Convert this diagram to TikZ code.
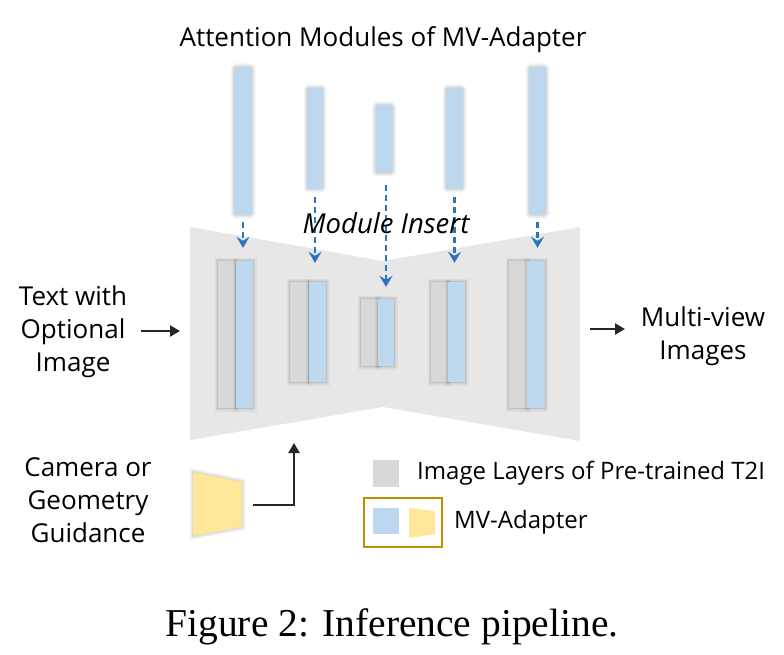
\documentclass[tikz,border=0pt]{standalone}
\usepackage{fontspec}
\setmainfont{Liberation Serif}
\newfontfamily\lblfont{Open Sans}
\usetikzlibrary{arrows.meta}
\definecolor{blueM}{HTML}{BDD7EE}
\definecolor{grayL}{HTML}{D8D8D8}
\definecolor{bowtie}{HTML}{E7E7E7}
\definecolor{arrowBlue}{HTML}{2E75B6}
\definecolor{yellowA}{HTML}{FFE699}
\definecolor{goldB}{HTML}{BF9000}
\definecolor{inkK}{HTML}{262626}
\tikzset{
  shd/.style={preaction={draw=black,draw opacity=0.04,line width=7pt},
              preaction={draw=black,draw opacity=0.05,line width=4.5pt},
              preaction={draw=black,draw opacity=0.07,line width=2pt}},
  modbar/.style={fill=blueM,draw=none,inner sep=0pt,rounded corners=1.5pt,shd},
  adpt/.style={fill=blueM,draw=none,inner sep=0pt,shd},
  lay/.style={fill=grayL,draw=none,inner sep=0pt,shd},
  dasharrow/.style={draw=arrowBlue,line width=2.4pt,dash pattern=on 6pt off 4pt,-{Stealth[length=11pt,width=13pt,inset=4pt]}},
  blk/.style={draw=inkK,line width=2.2pt,-{Triangle[length=10pt,width=11pt]}},
  lbl/.style={font=\lblfont\fontsize{26}{33}\selectfont,align=center,inner sep=0pt,text=black},
}
\begin{document}
\begin{tikzpicture}[x=1pt,y=-1pt]
\useasboundingbox (0,0) rectangle (784,655);
% bowtie (U-Net body)
\fill[bowtie] (190,227) -- (383,261) -- (580,227) -- (580,441) -- (383,407) -- (190,440) -- cycle;
\coordinate (ubot) at (294,443);
\coordinate (uin) at (180,331);
\coordinate (uout) at (590,329);
% title
\node[lbl] (title) at (383,40) {Attention Modules of MV-Adapter};
% attention module bars
\node[modbar,minimum width=18pt,minimum height=148pt] (m1) at (243,141) {};
\node[modbar,minimum width=16pt,minimum height=101pt] (m2) at (315,138.5) {};
\node[modbar,minimum width=17pt,minimum height=68pt] (m3) at (384,139) {};
\node[modbar,minimum width=17pt,minimum height=101pt] (m4) at (454.5,138.5) {};
\node[modbar,minimum width=17pt,minimum height=148pt] (m5) at (537.5,141) {};
% image layers + adapters
\node[lay,minimum width=17pt,minimum height=147pt] (g1) at (226.5,334.5) {};
\node[adpt,minimum width=17pt,minimum height=147pt] (a1) at (244.5,334.5) {};
\node[lay,minimum width=18pt,minimum height=100pt] (g2) at (299,332) {};
\node[adpt,minimum width=17pt,minimum height=100pt] (a2) at (317.5,332) {};
\node[lay,minimum width=17pt,minimum height=67pt] (g3) at (369.5,332.5) {};
\node[adpt,minimum width=16pt,minimum height=67pt] (a3) at (386,332.5) {};
\node[lay,minimum width=17pt,minimum height=100pt] (g4) at (439.5,332) {};
\node[adpt,minimum width=17pt,minimum height=100pt] (a4) at (456.5,332) {};
\node[lay,minimum width=18pt,minimum height=147pt] (g5) at (518,334.5) {};
\node[adpt,minimum width=17pt,minimum height=147pt] (a5) at (536,334.5) {};
% re-draw adapters over neighbouring layer shadows
\foreach \n in {a1,a2,a3,a4,a5}{\fill[blueM] (\n.south west) rectangle (\n.north east);}
% module insert arrows
\draw[dasharrow] ([yshift=-7pt]m1.south) -- ([yshift=13pt]m1.south |- a1.north);
\draw[dasharrow] ([yshift=-8pt]m2.south) -- ([yshift=19pt]m2.south |- a2.north);
\draw[dasharrow] ([xshift=2pt,yshift=-12pt]m3.south) -- ([yshift=12pt]a3.north);
\draw[dasharrow] ([yshift=-8pt]m4.south) -- ([yshift=19pt]m4.south |- a4.north);
\draw[dasharrow] ([yshift=-7pt]m5.south) -- ([yshift=13pt]m5.south |- a5.north);
\node[lbl,font=\lblfont\itshape\fontsize{27.5}{30}\selectfont] (ins) at (386,223) {Module Insert};
% input text
\node[lbl] (txt) at (73,332) {Text with\\Optional\\Image};
\coordinate (txtR) at (141,331);
\draw[blk] (txtR) -- (uin);
% output
\node[lbl] (outp) at (703,336) {Multi-view\\Images};
\coordinate (outL) at (625,329);
\draw[blk] (uout) -- (outL);
% camera guidance
\node[lbl] (cam) at (88,500) {Camera or\\Geometry\\Guidance};
\path[fill=yellowA,shd] (193,472) -- (242,482) -- (242,527) -- (193,536) -- cycle;
\coordinate (camE) at (253,505);
\draw[blk] (camE) -| (ubot);
% legend
\node[fill=grayL,inner sep=0pt,minimum width=26pt,minimum height=27pt] (lg) at (386,473.5) {};
\node[lbl,font=\lblfont\fontsize{24}{28}\selectfont,anchor=west] (lgt) at (417,473.5) {Image Layers of Pre-trained T2I};
\node[draw=goldB,line width=1.6pt,minimum width=78pt,minimum height=49pt,inner sep=0pt] (lbox) at (403,522.5) {};
\node[fill=blueM,inner sep=0pt,minimum width=26pt,minimum height=26pt] (lb) at (386,521) {};
\fill[yellowA] (409,508) -- (435,511) -- (435,534) -- (409,538) -- cycle;
\node[lbl,font=\lblfont\fontsize{24}{28}\selectfont,anchor=west] (lbt) at (454,522) {MV-Adapter};
% caption
\node[font=\fontsize{39.5}{46}\selectfont,inner sep=0pt] (cap) at (392,627) {Figure 2: Inference pipeline.};
\end{tikzpicture}
\end{document}
